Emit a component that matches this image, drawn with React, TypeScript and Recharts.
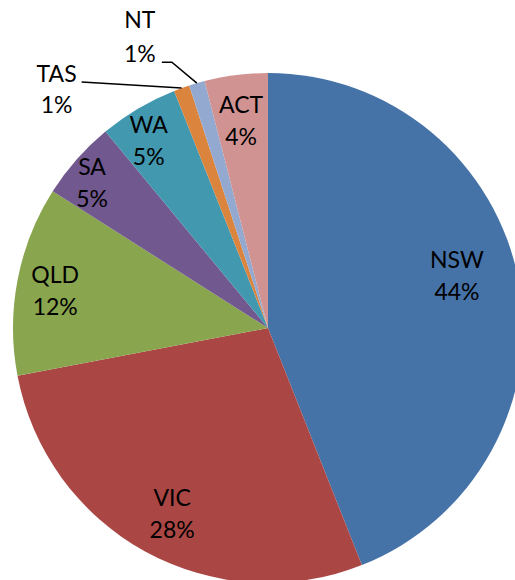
import { PieChart, Pie, Cell } from "recharts";

// State share of total (%)
const states = ["NSW", "VIC", "QLD", "SA", "WA", "TAS", "NT", "ACT"];
const shares = [44, 28, 12, 5, 5, 1, 1, 4];
const colors = ["#4572A7", "#AA4643", "#89A54E", "#71588F", "#4198AF", "#DB843D", "#93A9CF", "#D19392"];

const data = states.map((name, i) => ({ name, value: shares[i] }));

const RAD = Math.PI / 180;
const FONT = "Lato, 'Open Sans', sans-serif";

// label placement tweaks (radius from centre, angle nudge in degrees clockwise)
const inside: Record<string, { r: number; da: number }> = {
  NSW: { r: 196, da: -4.6 },
  VIC: { r: 209, da: -1.5 },
  QLD: { r: 216, da: -0.9 },
  SA: { r: 228, da: -1.9 },
  WA: { r: 222, da: -1.9 },
  ACT: { r: 209, da: -0.2 },
};

const renderLabel = (props: any) => {
  const { cx, cy, midAngle, outerRadius, name, value } = props;
  const theta = 90 - midAngle; // clockwise from 12 o'clock
  const text = (x: number, y1: number, y2: number) => (
    <text x={x} textAnchor="middle" fontFamily={FONT} fontSize={23} fill="#000">
      <tspan x={x} y={y1}>{name}</tspan>
      <tspan x={x} y={y2}>{`${value}%`}</tspan>
    </text>
  );

  if (inside[name]) {
    const { r, da } = inside[name];
    const t = (theta + da) * RAD;
    const x = cx + r * Math.sin(t);
    const y = cy - r * Math.cos(t);
    return <g key={name}>{text(x, y - 8, y + 24)}</g>;
  }

  const sx = cx + outerRadius * Math.sin(theta * RAD);
  const sy = cy - outerRadius * Math.cos(theta * RAD);
  if (name === "TAS") {
    const ex = sx - 100;
    const ey = sy - 6;
    return (
      <g key={name}>
        <polyline points={`${sx},${sy} ${ex},${ey}`} fill="none" stroke="#000" strokeWidth={1.5} />
        {text(ex - 25, ey, ey + 31)}
      </g>
    );
  }
  // NT
  const bx = sx - 25;
  const by = sy - 21;
  const ex = bx - 10;
  return (
    <g key={name}>
      <polyline points={`${sx},${sy} ${bx},${by} ${ex},${by}`} fill="none" stroke="#000" strokeWidth={1.5} />
      {text(ex - 22, by - 34, by)}
    </g>
  );
};

export default function App() {
  return (
    <div style={{ position: "absolute", left: 0, top: 0, background: "#fff" }}>
      <PieChart width={515} height={580}>
        <Pie
          data={data}
          dataKey="value"
          nameKey="name"
          cx={263}
          cy={323}
          outerRadius={255}
          startAngle={90}
          endAngle={-270}
          stroke="none"
          label={renderLabel}
          labelLine={false}
          isAnimationActive={false}
        >
          {data.map((d, i) => (
            <Cell key={d.name} fill={colors[i]} />
          ))}
        </Pie>
      </PieChart>
    </div>
  );
}
